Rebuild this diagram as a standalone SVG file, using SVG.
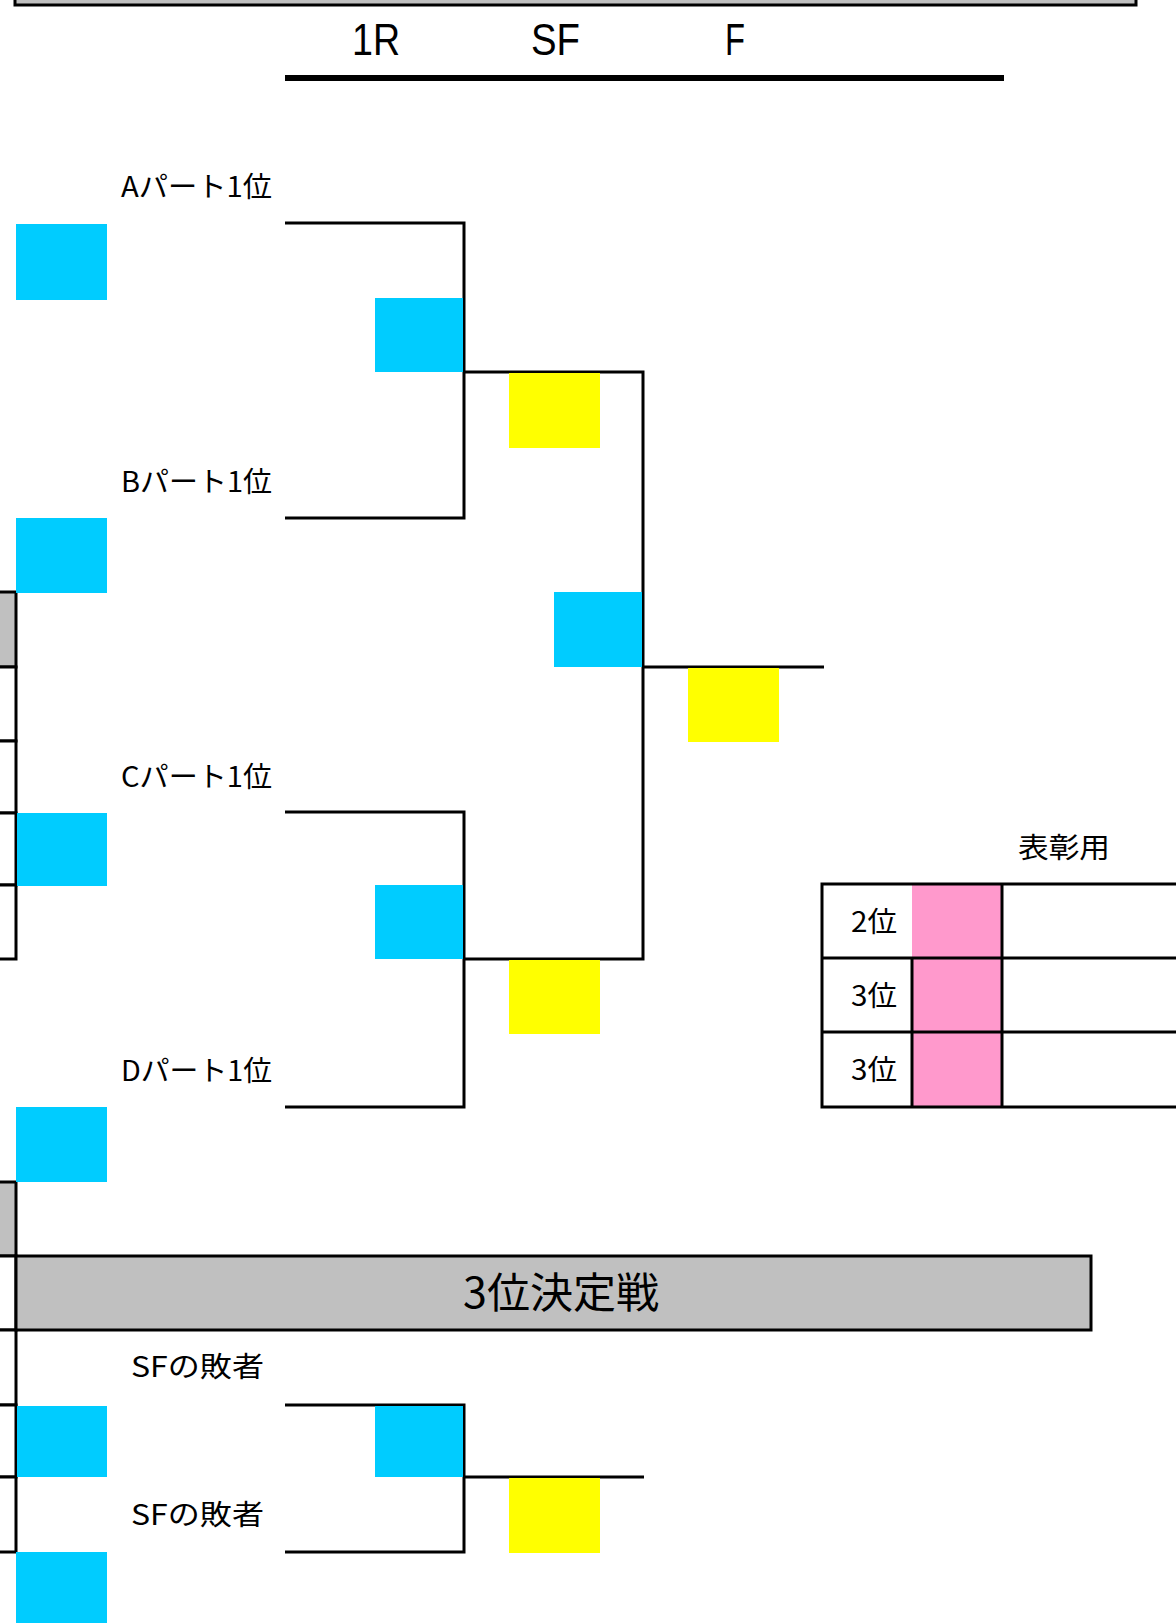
<svg xmlns="http://www.w3.org/2000/svg" width="1176" height="1623" viewBox="0 0 1176 1623">
<style>
.ln{stroke:#000;stroke-width:3;fill:none}
.cy{fill:#00CCFF}
.ye{fill:#FFFF00}
.pk{fill:#FF99CC}
.gr{fill:#C0C0C0;stroke:#000;stroke-width:3}
.cell{fill:#fff;stroke:#000;stroke-width:3}
.hd{font-family:"Liberation Sans",Arial,sans-serif;font-size:44px;fill:#000}
.lb{font-family:"Noto Sans CJK JP","Noto Sans",sans-serif;font-size:28px;fill:#000}
</style>
<rect width="1176" height="1623" fill="#fff"/>
<g id="top-bar"><rect class="gr" x="15" y="-10" width="1121" height="15"/></g>
<g id="round-header">
<text class="hd" x="352" y="55" textLength="48" lengthAdjust="spacingAndGlyphs">1R</text>
<text class="hd" x="531" y="55" textLength="49" lengthAdjust="spacingAndGlyphs">SF</text>
<text class="hd" x="725" y="55" textLength="20" lengthAdjust="spacingAndGlyphs">F</text>
<rect x="285" y="75" width="719" height="6" fill="#000"/>
</g>
<g id="left-table-upper">
<rect x="-10" y="592" width="26" height="75" class="gr"/>
<rect x="-10" y="667" width="26" height="74" class="cell"/>
<rect x="-10" y="741" width="26" height="72" class="cell"/>
<rect x="-10" y="813" width="26" height="72" class="cell"/>
<rect x="-10" y="885" width="26" height="74" class="cell"/>
</g>
<g id="left-table-lower">
<rect x="-10" y="1182" width="26" height="74" class="gr"/>
<rect x="-10" y="1256" width="26" height="74" class="cell"/>
<rect x="-10" y="1330" width="26" height="75" class="cell"/>
<rect x="-10" y="1405" width="26" height="72" class="cell"/>
<rect x="-10" y="1477" width="26" height="75" class="cell"/>
</g>
<g id="third-place-bar">
<rect x="16" y="1256" width="1075" height="74" class="gr"/>
<text x="561" y="1308" text-anchor="middle" font-family="'Noto Sans CJK JP','Noto Sans',sans-serif" font-size="42" textLength="196" lengthAdjust="spacingAndGlyphs">3位決定戦</text>
</g>
<g id="connectors">
<polyline class="ln" points="285,223 464,223 464,518 285,518"/>
<polyline class="ln" points="285,812 464,812 464,1107 285,1107"/>
<polyline class="ln" points="464,372 643,372 643,959 464,959"/>
<line class="ln" x1="643" y1="667" x2="824" y2="667"/>
<polyline class="ln" points="285,1405 464,1405 464,1552 285,1552"/>
<line class="ln" x1="464" y1="1477" x2="644" y2="1477"/>
</g>
<g id="label-a"><text class="lb" x="121" y="197" textLength="151" lengthAdjust="spacingAndGlyphs">Aパート1位</text></g>
<g id="label-b"><text class="lb" x="121" y="492" textLength="151" lengthAdjust="spacingAndGlyphs">Bパート1位</text></g>
<g id="label-c"><text class="lb" x="121" y="787" textLength="151" lengthAdjust="spacingAndGlyphs">Cパート1位</text></g>
<g id="label-d"><text class="lb" x="121" y="1081" textLength="151" lengthAdjust="spacingAndGlyphs">Dパート1位</text></g>
<g id="label-sf1"><text class="lb" x="131" y="1377" textLength="133" lengthAdjust="spacingAndGlyphs">SFの敗者</text></g>
<g id="label-sf2"><text class="lb" x="131" y="1525" textLength="133" lengthAdjust="spacingAndGlyphs">SFの敗者</text></g>
<g id="box-a"><rect class="cy" x="16" y="224" width="91" height="76"/></g>
<g id="box-b"><rect class="cy" x="16" y="518" width="91" height="75"/></g>
<g id="box-c"><rect class="cy" x="17" y="813" width="90" height="73"/></g>
<g id="box-d"><rect class="cy" x="16" y="1107" width="91" height="75"/></g>
<g id="box-sf1"><rect class="cy" x="17" y="1406" width="90" height="71"/></g>
<g id="box-sf2"><rect class="cy" x="16" y="1552" width="91" height="71"/></g>
<g id="r1-ab"><rect class="cy" x="375" y="298" width="88" height="74"/></g>
<g id="r1-cd"><rect class="cy" x="375" y="885" width="88" height="74"/></g>
<g id="sf-top"><rect class="ye" x="509" y="373" width="91" height="75"/></g>
<g id="sf-bottom"><rect class="ye" x="509" y="960" width="91" height="74"/></g>
<g id="sf-win"><rect class="cy" x="554" y="592" width="88" height="75"/></g>
<g id="final"><rect class="ye" x="688" y="668" width="91" height="74"/></g>
<g id="third-r1"><rect class="cy" x="375" y="1406" width="88" height="71"/></g>
<g id="third-win"><rect class="ye" x="509" y="1478" width="91" height="75"/></g>
<g id="award-table">
<text class="lb" x="1018" y="858" font-size="29" textLength="92" lengthAdjust="spacingAndGlyphs">表彰用</text>
<rect class="pk" x="912" y="884" width="90" height="223"/>
<rect x="822" y="884" width="400" height="223" class="ln"/>
<line class="ln" x1="822" y1="958" x2="1176" y2="958"/>
<line class="ln" x1="822" y1="1032" x2="1176" y2="1032"/>
<line class="ln" x1="912" y1="958" x2="912" y2="1107"/>
<line class="ln" x1="1002" y1="884" x2="1002" y2="1107"/>
<text class="lb" x="851" y="932" textLength="46" lengthAdjust="spacingAndGlyphs">2位</text>
<text class="lb" x="851" y="1006" textLength="46" lengthAdjust="spacingAndGlyphs">3位</text>
<text class="lb" x="851" y="1080" textLength="46" lengthAdjust="spacingAndGlyphs">3位</text>
</g>
</svg>
